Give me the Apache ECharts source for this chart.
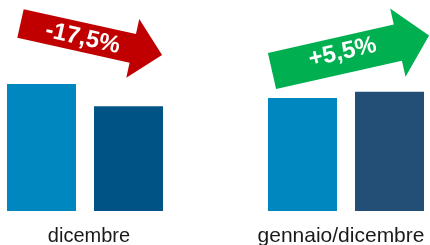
<!DOCTYPE html>
<html><head><meta charset="utf-8">
<script src="https://cdn.jsdelivr.net/npm/echarts@6/dist/echarts.min.js"></script>
<style>html,body{margin:0;padding:0;background:#fff}#c{width:430px;height:245px}</style>
</head><body><div id="c"></div>
<script>
const categories = ['dicembre', 'gennaio/dicembre'];
const previousValues = [100, 89];
const currentValues = [82.5, 93.9];
const changeLabels = ['-17,5%', '+5,5%'];

const lightColor = '#0087BF';
const darkColors = ['#005385', '#234F76'];
const arrowColors = ['#C00000', '#00B050'];
const FONT = 'Arial, "Liberation Sans", sans-serif';
const labelSizes = [20, 21];
const labelPads = [[0, 0, 0, 8], [0, 10, 0, 0]];

const chart = echarts.init(document.getElementById('c'), null, {renderer: 'canvas'});
const grids = [
  {left: 7, width: 156, top: 11, bottom: 34, containLabel: false, outerBoundsMode: 'none'},
  {left: 268, width: 156, top: 11, bottom: 34, containLabel: false, outerBoundsMode: 'none'}
];
const xAxes = [], yAxes = [], series = [];
categories.forEach((cat, i) => {
  xAxes.push({type: 'category', gridIndex: i, data: [cat], axisLine: {show: false}, axisTick: {show: false},
    axisLabel: {color: '#1a1a1a', fontSize: labelSizes[i], fontFamily: FONT, margin: 15, padding: labelPads[i]}});
  yAxes.push({type: 'value', gridIndex: i, min: 0, max: 157.5, show: false, splitLine: {show: false}});
  series.push({type: 'bar', xAxisIndex: i, yAxisIndex: i, data: [previousValues[i]], barWidth: 69, barGap: '26.1%',
    itemStyle: {color: lightColor}, silent: true});
  series.push({type: 'bar', xAxisIndex: i, yAxisIndex: i, data: [currentValues[i]], barWidth: 69, barGap: '26.1%',
    itemStyle: {color: darkColors[i]}, silent: true});
});

// arrow decorations: tail midpoint, angle (deg, clockwise on screen), geometry
const arrows = [
  {x: 20.5, y: 23.5, angle: 12.5, w: 14.7, hb: 115, hw: 30, tip: 145, tx: 64, ty: 1},
  {x: 272, y: 71, angle: -12.7, w: 18.5, hb: 129, hw: 35, tip: 161, tx: 73, ty: -2.5}
];
const graphic = arrows.map((a, i) => ({
  type: 'group', x: a.x, y: a.y, rotation: -a.angle * Math.PI / 180, z: 100,
  children: [
    {type: 'polygon', shape: {points: [[0, -a.w], [a.hb, -a.w], [a.hb, -a.hw], [a.tip, 0], [a.hb, a.hw], [a.hb, a.w], [0, a.w]]},
     style: {fill: arrowColors[i]}},
    {type: 'text', x: a.tx, y: a.ty, style: {text: changeLabels[i], fill: '#fff', font: 'bold 24px ' + FONT,
     textAlign: 'center', textVerticalAlign: 'middle'}}
  ]
}));

chart.setOption({animation: false, grid: grids, xAxis: xAxes, yAxis: yAxes, series: series, graphic: graphic});
</script></body></html>
